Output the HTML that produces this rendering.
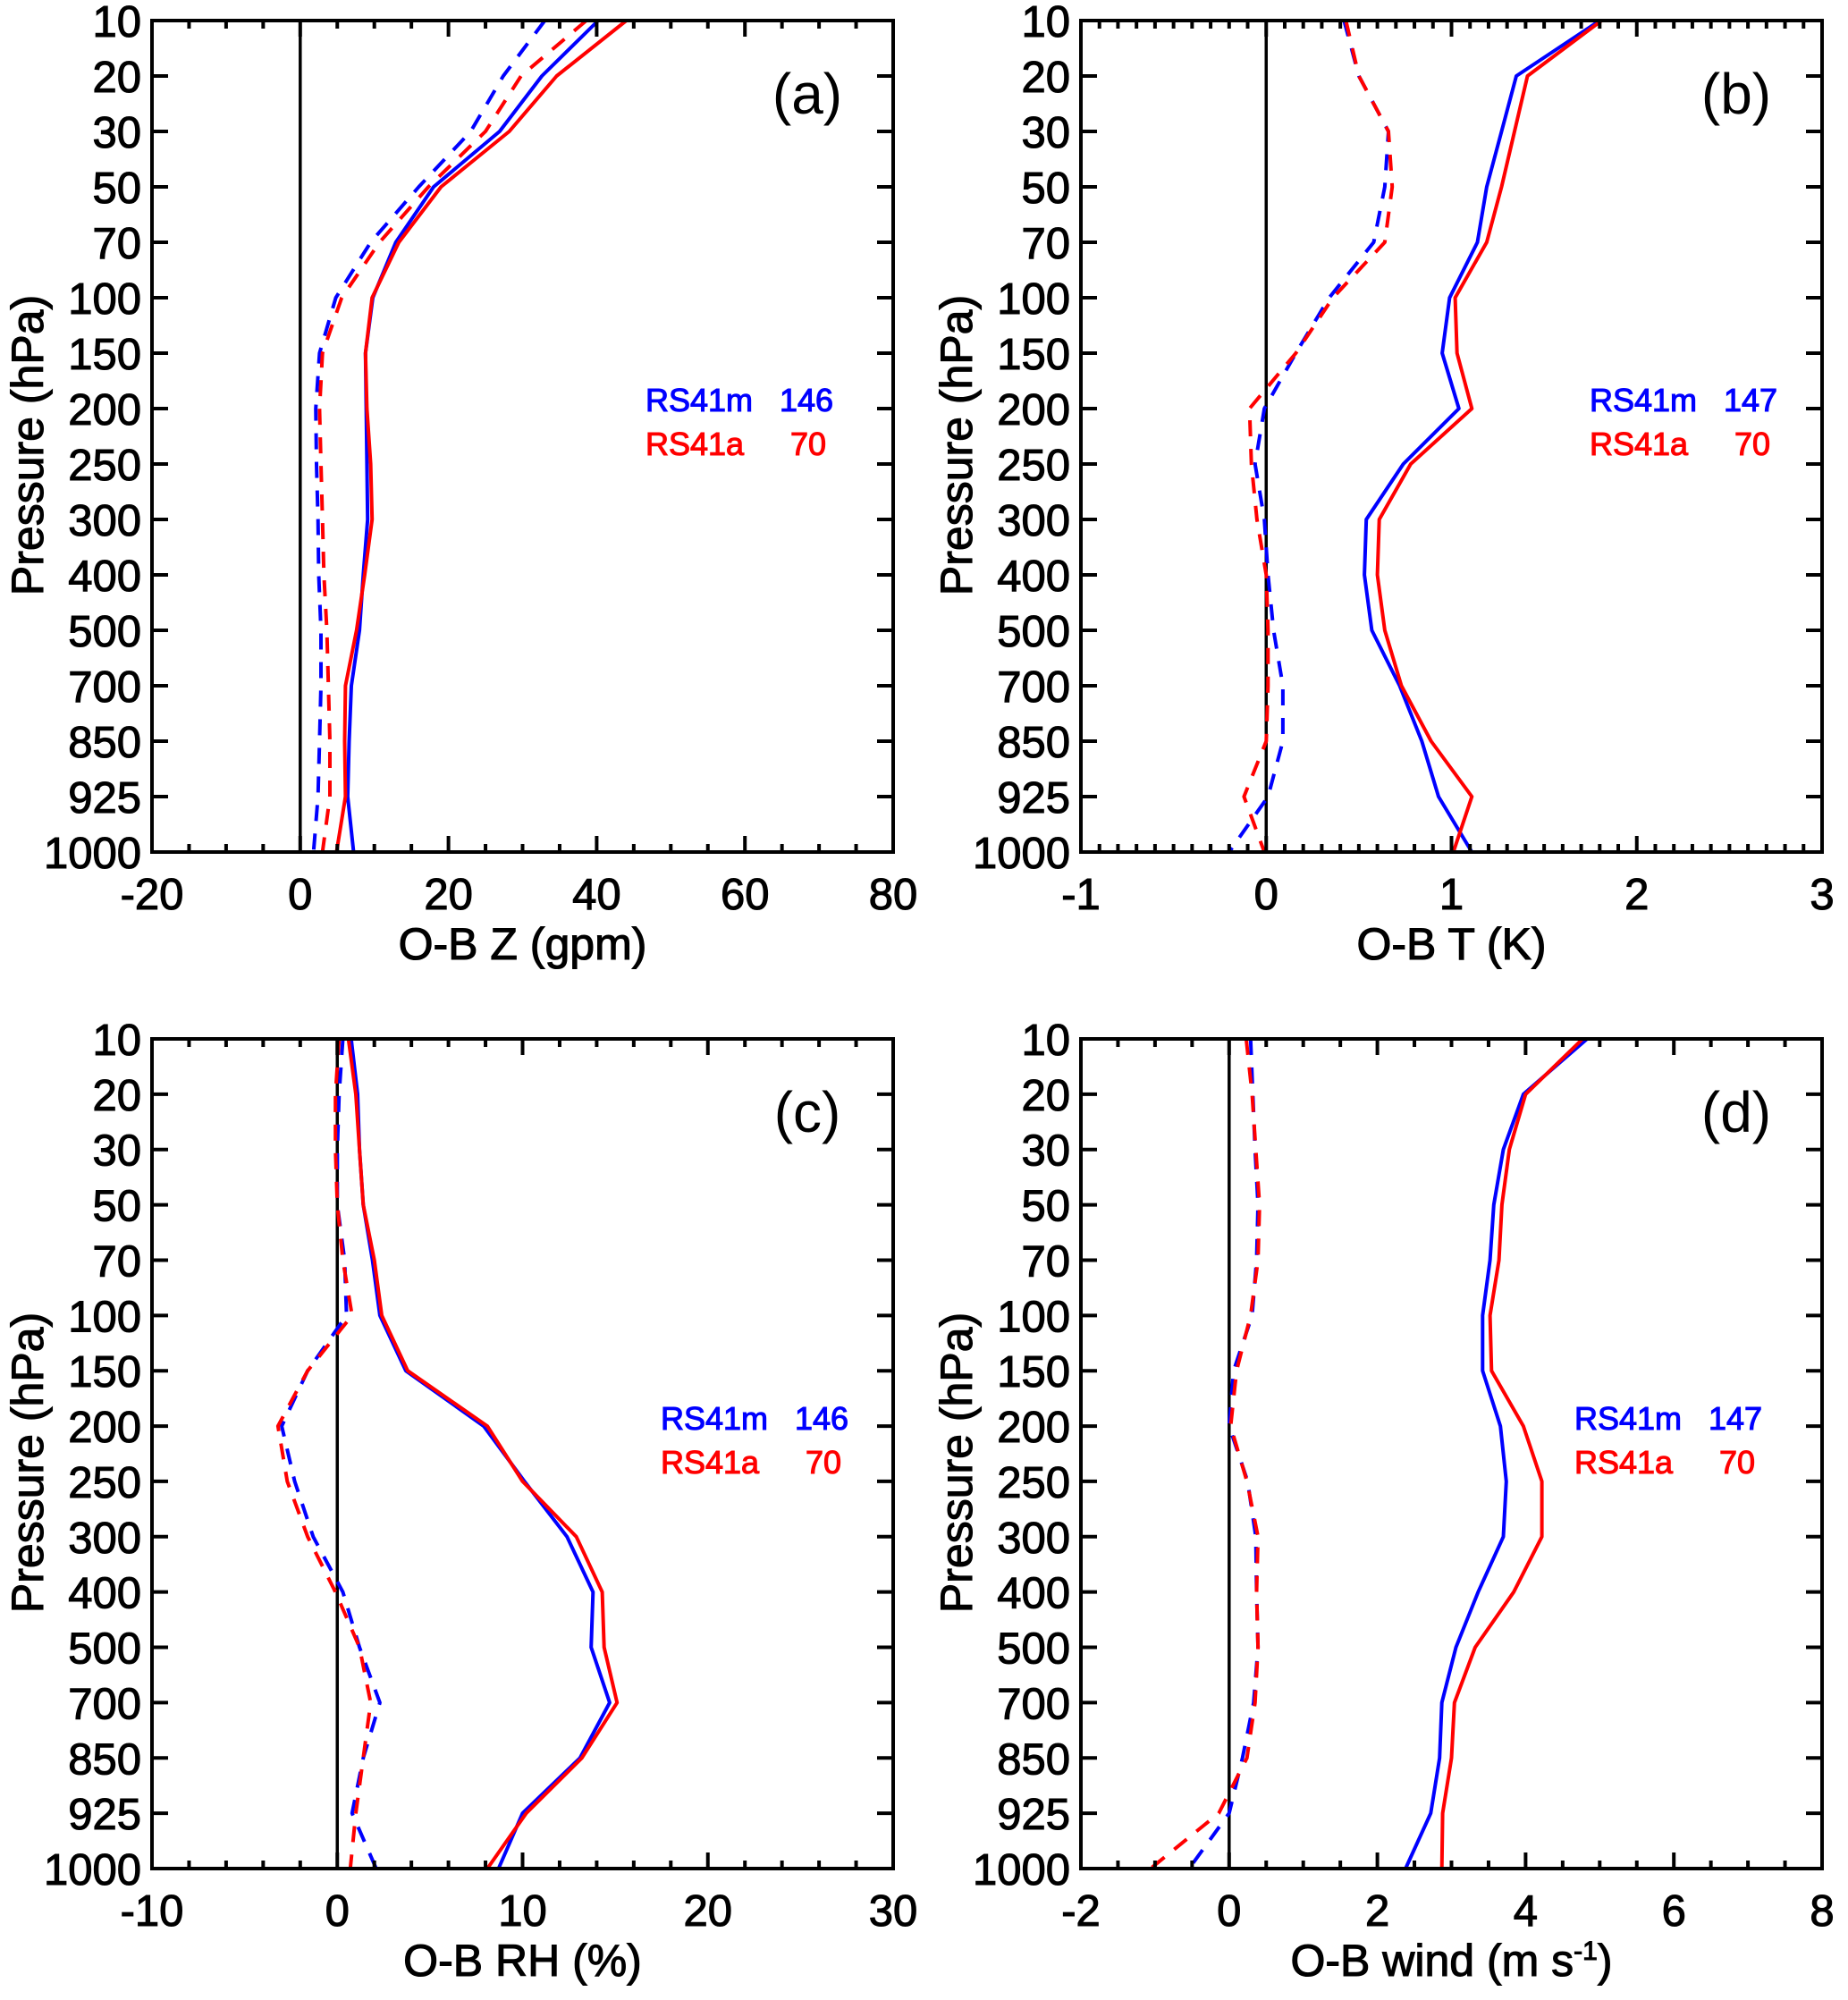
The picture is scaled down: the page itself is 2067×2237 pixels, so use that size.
<!DOCTYPE html>
<html><head><meta charset="utf-8">
<style>
html,body{margin:0;padding:0;background:#fff;}
svg{display:block;font-family:"Liberation Sans",Arial,sans-serif;}
svg text{stroke-width:1.1px;}
</style></head>
<body>
<svg id="fig" width="2067" height="2237" viewBox="0 0 2067 2237" xmlns="http://www.w3.org/2000/svg"></svg>
<script>
const levels = ["10","20","30","50","70","100","150","200","250","300","400","500","700","850","925","1000"];

const zTicks = [-20,0,20,40,60,80];
const zBlueSolid = [40.2,32.6,26.9,18,12.9,9.8,8.8,8.9,9,9.1,8.5,8,6.9,6.6,6.4,7.2];
const zRedSolid  = [44,34.6,28.2,19,13.3,9.7,8.8,9,9.5,9.7,8.7,7.6,6.1,6,6.1,4.9];
const zBlueDash  = [33,27.4,23,16,9.5,4.8,2.6,2.1,2.2,2.4,2.5,2.8,2.8,2.6,2.4,1.8];
const zRedDash   = [38.6,29.8,25,17.3,10.7,5.6,3,2.6,2.8,3,3.2,3.6,3.8,4,4,3];

const tTicks = [-1,0,1,2,3];
const tBlueSolid = [1.80,1.35,1.27,1.19,1.14,0.99,0.95,1.04,0.74,0.54,0.53,0.57,0.72,0.84,0.93,1.11];
const tRedSolid  = [1.81,1.41,1.34,1.27,1.19,1.02,1.03,1.11,0.78,0.61,0.60,0.64,0.73,0.89,1.11,1.01];
const tBlueDash  = [0.42,0.50,0.66,0.64,0.58,0.34,0.16,-0.01,-0.06,-0.01,0.01,0.04,0.09,0.09,0.01,-0.20];
const tRedDash   = [0.43,0.50,0.66,0.68,0.64,0.36,0.16,-0.09,-0.08,-0.05,0,0.01,0.01,0,-0.12,-0.01];

const rhTicks = [-10,0,10,20,30];
const rhBlueSolid = [0.75,1.1,1.2,1.4,1.9,2.3,3.7,7.9,10.1,12.4,13.8,13.7,14.7,13.1,10,8.7];
const rhRedSolid  = [0.6,1,1.2,1.4,2,2.4,3.8,8.1,10,12.9,14.3,14.4,15.1,13.2,10.2,8.1];
const rhBlueDash  = [0.3,0.1,0,0,0.4,0.5,-1.6,-3,-2.3,-1.3,0.3,1.2,2.3,1.4,0.8,2.1];
const rhRedDash   = [0.1,-0.1,-0.1,0,0.3,0.8,-1.6,-3.2,-2.7,-1.6,-0.1,1.2,1.8,1.4,1,0.7];

const wTicks = [-2,0,2,4,6,8];
const wBlueSolid = [4.83,3.97,3.7,3.57,3.52,3.42,3.42,3.66,3.74,3.7,3.36,3.06,2.87,2.84,2.72,2.38];
const wRedSolid  = [4.77,4.0,3.78,3.68,3.64,3.52,3.54,3.97,4.22,4.22,3.84,3.32,3.04,3.0,2.88,2.87];
const wBlueDash  = [0.29,0.32,0.35,0.39,0.37,0.31,0.06,0,0.25,0.36,0.37,0.39,0.33,0.18,0,-0.54];
const wRedDash   = [0.23,0.31,0.36,0.41,0.39,0.29,0.10,0.02,0.24,0.39,0.37,0.39,0.35,0.24,-0.14,-1.06];

const NS="http://www.w3.org/2000/svg";
const svg=document.getElementById('fig');
function mk(tag,attrs,parent){const e=document.createElementNS(NS,tag);for(const k in attrs)e.setAttribute(k,attrs[k]);(parent||svg).appendChild(e);return e;}

function panel(o){
  const g=mk('g',{});
  
  
  const X=v=>o.x0+(v-o.xmin)/(o.xmax-o.xmin)*(o.x1-o.x0);
  const Y=i=>o.y0+i/(levels.length-1)*(o.y1-o.y0);
  const z=mk('line',{x1:X(0),x2:X(0),y1:o.y0,y2:o.y1,stroke:'#000','stroke-width':3.5},g);
  
  
  const series=[[o.bd,'#0000ff',true,'rs41m-dashed'],[o.rd,'#ff0000',true,'rs41a-dashed'],[o.bs,'#0000ff',false,'rs41m-solid'],[o.rs,'#ff0000',false,'rs41a-solid']];
  for(const [arr,col,dash,nm] of series){
    const pts=arr.map((v,i)=>X(v).toFixed(1)+','+Y(i).toFixed(1)).join(' ');
    const a={points:pts,fill:'none',stroke:col,'stroke-width':4,'stroke-linejoin':'round'};
    if(dash)a['stroke-dasharray']='18 14';
    const pl=mk('polyline',a,g);
    
    
  }
  const fr=mk('rect',{x:o.x0,y:o.y0,width:o.x1-o.x0,height:o.y1-o.y0,fill:'none',stroke:'#000','stroke-width':4},g);
  
  
  const step=o.ticks[1]-o.ticks[0];
  const nMinor=Math.round(step/o.minor);
  for(let k=0;k<o.ticks.length;k++){
    const t=o.ticks[k];
    const x=X(t);
    mk('line',{x1:x,x2:x,y1:o.y1,y2:o.y1-18,stroke:'#000','stroke-width':4},g);
    mk('line',{x1:x,x2:x,y1:o.y0,y2:o.y0+18,stroke:'#000','stroke-width':4},g);
    const tx=mk('text',{x:x,y:o.y1+64,'text-anchor':'middle','font-size':49,stroke:'#000'},g);
    tx.textContent=String(t);
    
    
    if(k<o.ticks.length-1){
      for(let m=1;m<nMinor;m++){
        const xm=X(t+m*o.minor);
        mk('line',{x1:xm,x2:xm,y1:o.y1,y2:o.y1-9,stroke:'#000','stroke-width':4},g);
        mk('line',{x1:xm,x2:xm,y1:o.y0,y2:o.y0+9,stroke:'#000','stroke-width':4},g);
      }
    }
  }
  levels.forEach((l,i)=>{
    const y=Y(i);
    mk('line',{x1:o.x0,x2:o.x0+18,y1:y,y2:y,stroke:'#000','stroke-width':4},g);
    mk('line',{x1:o.x1,x2:o.x1-18,y1:y,y2:y,stroke:'#000','stroke-width':4},g);
    const ty=mk('text',{x:o.x0-12,y:y+18,'text-anchor':'end','font-size':49,stroke:'#000'},g);
    ty.textContent=l;
    
    
  });
  const xt=mk('text',{x:(o.x0+o.x1)/2,y:o.y1+120,'text-anchor':'middle','font-size':50,stroke:'#000'},g);
  xt.innerHTML=o.xtitle;
  
  
  const yc=(o.y0+o.y1)/2;
  const yt=mk('text',{x:0,y:0,'text-anchor':'middle','font-size':50,stroke:'#000',transform:`translate(${o.x0-122},${yc+10}) rotate(-90)`},g);
  yt.textContent='Pressure (hPa)';
  
  
  const pl=mk('text',{x:o.x0+733,y:o.y0+104,'text-anchor':'middle','font-size':64},g);
  pl.textContent=o.label;
  
  
  const lx=o.x0+o.legdx;
  const l1=mk('text',{x:lx,y:o.y0+437,'font-size':36,fill:'#0000ff',stroke:'#0000ff'},g);
  l1.textContent='RS41m';
  
  
  const n1=mk('text',{x:lx+150,y:o.y0+437,'font-size':36,fill:'#0000ff',stroke:'#0000ff'},g);
  n1.textContent=o.n1;
  
  
  const l2=mk('text',{x:lx,y:o.y0+486,'font-size':36,fill:'#ff0000',stroke:'#ff0000'},g);
  l2.textContent='RS41a';
  
  
  const n2=mk('text',{x:lx+162,y:o.y0+486,'font-size':36,fill:'#ff0000',stroke:'#ff0000'},g);
  n2.textContent='70';
  
  
}

const L0=170,L1=999,R0=1209,R1=2038,T0=23,T1=953,B0=1162,B1=2090;
panel({name:'panel-a-geopotential',x0:L0,x1:L1,y0:T0,y1:T1,xmin:-20,xmax:80,ticks:zTicks,minor:5,bs:zBlueSolid,rs:zRedSolid,bd:zBlueDash,rd:zRedDash,xtitle:'O-B Z (gpm)',label:'(a)',n1:'146',legdx:552});
panel({name:'panel-b-temperature',x0:R0,x1:R1,y0:T0,y1:T1,xmin:-1,xmax:3,ticks:tTicks,minor:0.1,bs:tBlueSolid,rs:tRedSolid,bd:tBlueDash,rd:tRedDash,xtitle:'O-B T (K)',label:'(b)',n1:'147',legdx:569});
panel({name:'panel-c-humidity',x0:L0,x1:L1,y0:B0,y1:B1,xmin:-10,xmax:30,ticks:rhTicks,minor:2,bs:rhBlueSolid,rs:rhRedSolid,bd:rhBlueDash,rd:rhRedDash,xtitle:'O-B RH (%)',label:'(c)',n1:'146',legdx:569});
panel({name:'panel-d-wind',x0:R0,x1:R1,y0:B0,y1:B1,xmin:-2,xmax:8,ticks:wTicks,minor:0.5,bs:wBlueSolid,rs:wRedSolid,bd:wBlueDash,rd:wRedDash,xtitle:'O-B wind (m s<tspan font-size="30" dy="-18">-1</tspan><tspan dy="18">)</tspan>',label:'(d)',n1:'147',legdx:552});
</script>
</body></html>
